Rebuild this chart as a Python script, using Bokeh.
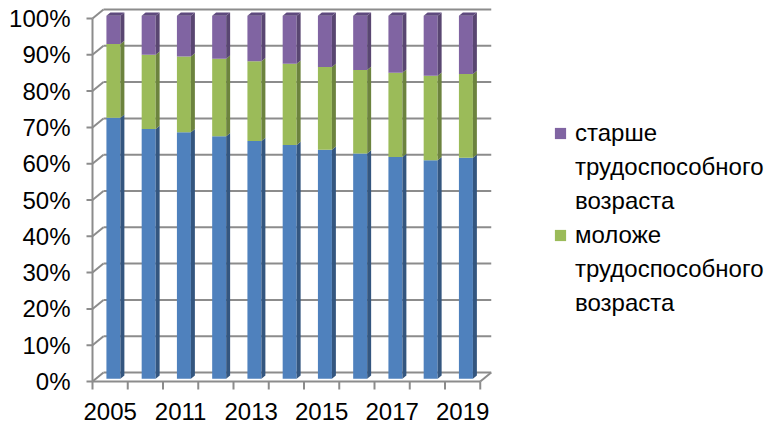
from bokeh.plotting import figure
from bokeh.models import Range1d, LinearAxis, FixedTicker, Legend, LegendItem
from bokeh.embed import file_html
from bokeh.resources import INLINE
from bokeh.core.properties import value

# ---------------- data ----------------
years = ["2005", "2010", "2011", "2012", "2013", "2014", "2015", "2016", "2017", "2018", "2019"]
working_age = [71.9, 68.8, 67.9, 66.8, 65.5, 64.4, 63.1, 62.1, 61.1, 60.2, 60.9]
younger = [20.3, 20.5, 20.9, 21.4, 22.0, 22.4, 22.8, 23.0, 23.2, 23.3, 23.1]
older = [7.8, 10.7, 11.2, 11.8, 12.5, 13.2, 14.1, 14.9, 15.7, 16.5, 16.0]
shown_year_labels = ["2005", "2011", "2013", "2015", "2017", "2019"]
y_ticks = [0, 10, 20, 30, 40, 50, 60, 70, 80, 90, 100]
y_tick_labels = ["0%", "10%", "20%", "30%", "40%", "50%", "60%", "70%", "80%", "90%", "100%"]
legend_older = ["старше", "трудоспособного", "возраста"]
legend_younger = ["моложе", "трудоспособного", "возраста"]

# ---------------- styling / geometry ----------------
W, H = 770, 427
LEFT = 80             # frame left (px)
AXIS_X = 92           # front vertical axis (px)
FLOOR_Y = 381         # front floor edge (px from top)
PX_X = 35.25          # pixels per category
PX_Y = 3.63           # pixels per percent
DX = 11 / PX_X        # 3D depth offset (data units)
DY = 9 / PX_Y
F = 0.3               # depth of bar front face
D = 0.36              # bar depth
BAR_W = 14 / PX_X
FONT = "Liberation Sans"
FS = "24px"
GRID = "#8c8c8c"

colors = {
    "working": ("#4F81BD", "#34567F", "#3D6696"),
    "younger": ("#9BBB59", "#6C833E", "#7E9A47"),
    "older": ("#8064A2", "#594671", "#5F4A7E"),
}

x_start = -0.5 - (AXIS_X - LEFT) / PX_X
x_end = x_start + (W - LEFT) / PX_X
y_start = (FLOOR_Y - H) / PX_Y
y_end = FLOOR_Y / PX_Y

p = figure(width=W, height=H, output_backend="svg", toolbar_location=None,
           x_range=Range1d(x_start, x_end), y_range=Range1d(y_start, y_end),
           x_axis_location=None, y_axis_location=None,
           min_border_left=LEFT, min_border_right=0, min_border_top=0, min_border_bottom=0,
           outline_line_color=None, background_fill_color="white", border_fill_color="white")
p.xgrid.visible = False
p.ygrid.visible = False

yaxis = LinearAxis(ticker=FixedTicker(ticks=y_ticks),
                   major_label_overrides={t: l for t, l in zip(y_ticks, y_tick_labels)})
yaxis.axis_line_color = None
yaxis.major_tick_line_color = None
yaxis.minor_tick_line_color = None
yaxis.major_tick_in = 0
yaxis.major_tick_out = 0
yaxis.major_label_standoff = 10
yaxis.major_label_text_font = FONT
yaxis.major_label_text_font_size = FS
yaxis.major_label_text_color = "black"
p.add_layout(yaxis, "left")

n = len(years)
xs_idx = list(range(n))
x_left_wall = -0.5
x_right_front = n - 0.5
tick_len_x = 6 / PX_X

# y tick marks on the front vertical axis
p.segment(x0=[x_left_wall - tick_len_x] * len(y_ticks), y0=y_ticks,
          x1=[x_left_wall] * len(y_ticks), y1=y_ticks, line_color=GRID, line_width=2)
# back wall gridlines (incl. floor back edge)
p.segment(x0=[x_left_wall + DX] * len(y_ticks), y0=[v + DY for v in y_ticks],
          x1=[x_right_front + DX] * len(y_ticks), y1=[v + DY for v in y_ticks],
          line_color=GRID, line_width=2)
# side wall diagonals
p.segment(x0=[x_left_wall] * len(y_ticks), y0=y_ticks,
          x1=[x_left_wall + DX] * len(y_ticks), y1=[v + DY for v in y_ticks],
          line_color=GRID, line_width=2)
# front vertical axis line
p.segment(x0=[x_left_wall], y0=[y_ticks[0]], x1=[x_left_wall], y1=[y_ticks[-1]],
          line_color=GRID, line_width=2)
# floor front edge and right diagonal
p.segment(x0=[x_left_wall, x_right_front], y0=[0, 0],
          x1=[x_right_front, x_right_front + DX], y1=[0, DY],
          line_color=GRID, line_width=2)
# category tick marks on floor front edge
bounds = [i - 0.5 for i in range(n + 1)]
p.segment(x0=bounds, y0=[0] * len(bounds), x1=bounds, y1=[-8 / PX_Y] * len(bounds),
          line_color=GRID, line_width=2)

# ---------------- bars ----------------
series = [("working", working_age), ("younger", younger), ("older", older)]
bottoms = [0.0] * n
renderers = {}
for si, (name, vals) in enumerate(series):
    front, side, topc = colors[name]
    tops = [b + v for b, v in zip(bottoms, vals)]
    lefts = [i + F * DX - BAR_W / 2 for i in xs_idx]
    rights = [i + F * DX + BAR_W / 2 for i in xs_idx]
    r = p.quad(left=lefts, right=rights,
               bottom=[b + F * DY for b in bottoms], top=[t + F * DY for t in tops],
               fill_color=front, line_color=None)
    renderers[name] = r
    side_xs = [[rr, rr + D * DX, rr + D * DX, rr] for rr in rights]
    side_ys = [[b + F * DY, b + (F + D) * DY, t + (F + D) * DY, t + F * DY]
               for b, t in zip(bottoms, tops)]
    p.patches(xs=side_xs, ys=side_ys, fill_color=side, line_color=None)
    if si == len(series) - 1:
        top_xs = [[l, rr, rr + D * DX, l + D * DX] for l, rr in zip(lefts, rights)]
        top_ys = [[t + F * DY, t + F * DY, t + (F + D) * DY, t + (F + D) * DY] for t in tops]
        p.patches(xs=top_xs, ys=top_ys, fill_color=topc, line_color=None)
    bottoms = tops

# x labels (every other category)
p.text(x=[years.index(l) for l in shown_year_labels], y=[-30 / PX_Y] * len(shown_year_labels),
       text=shown_year_labels, text_align="center", text_baseline="middle",
       text_font=value(FONT), text_font_size=FS, text_color="black")

# invisible renderer for continuation lines of the legend
blank = p.quad(left=[], right=[], bottom=[], top=[], fill_alpha=0, line_alpha=0)

items = []
for lines, key in [(legend_older, "older"), (legend_younger, "younger")]:
    items.append(LegendItem(label=lines[0], renderers=[renderers[key]]))
    for extra in lines[1:]:
        items.append(LegendItem(label=extra, renderers=[blank]))

legend = Legend(items=items, location=(553 - LEFT, H - 320))
legend.border_line_color = None
legend.background_fill_color = None
legend.padding = 0
legend.margin = 0
legend.spacing = 0
legend.glyph_width = 14
legend.glyph_height = 14
legend.label_height = 34
legend.label_standoff = 8
legend.label_text_font = FONT
legend.label_text_font_size = FS
legend.label_text_color = "black"
p.add_layout(legend, "center")

open("out.html", "w").write(file_html(p, INLINE))
